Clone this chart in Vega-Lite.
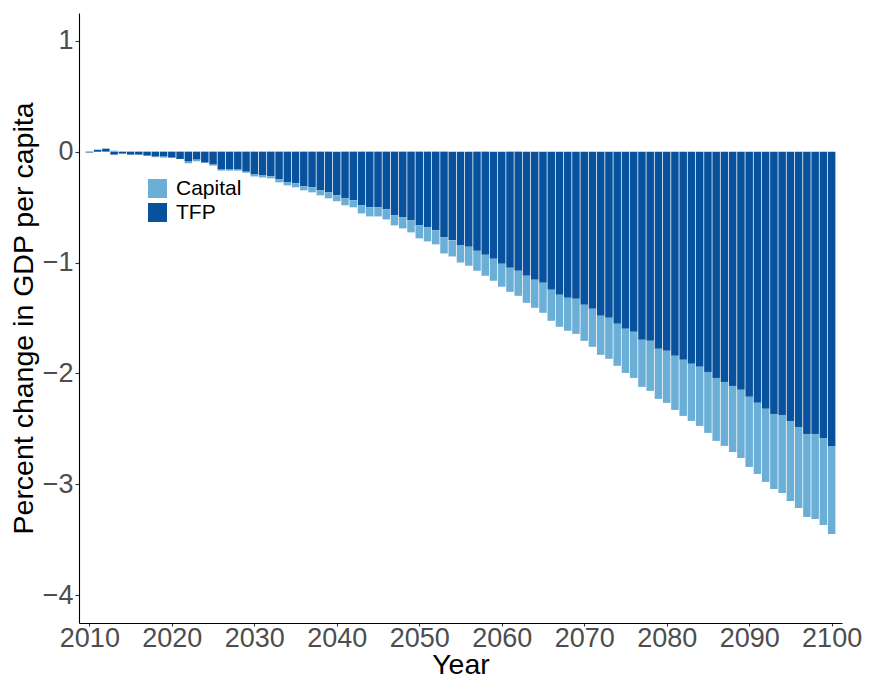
{
  "$schema": "https://vega.github.io/schema/vega-lite/v6.json",
  "autosize": "none",
  "width": 763,
  "height": 610,
  "padding": {"left": 79, "top": 13, "right": 28, "bottom": 56},
  "background": "white",
  "config": {
    "view": {"stroke": null},
    "font": "Liberation Sans",
    "axis": {"grid": false, "domainColor": "black", "domainWidth": 1.1, "tickColor": "#333333", "tickWidth": 1.1, "tickSize": 4, "labelColor": "#4d4d4d", "labelFont": "Liberation Sans", "labelFontSize": 27, "labelPadding": 2, "titleFont": "Liberation Sans", "titleFontSize": 28.5, "titleColor": "black", "titleFontWeight": "normal"}
  },
  "data": {"values": [
    {"year":2010,"component":"TFP","value":-0.008},{"year":2010,"component":"Capital","value":0},
    {"year":2011,"component":"TFP","value":0.018},{"year":2011,"component":"Capital","value":0},
    {"year":2012,"component":"TFP","value":0.027},{"year":2012,"component":"Capital","value":0},
    {"year":2013,"component":"TFP","value":-0.027},{"year":2013,"component":"Capital","value":0.009},
    {"year":2014,"component":"TFP","value":-0.018},{"year":2014,"component":"Capital","value":0},
    {"year":2015,"component":"TFP","value":-0.027},{"year":2015,"component":"Capital","value":0},
    {"year":2016,"component":"TFP","value":-0.027},{"year":2016,"component":"Capital","value":0},
    {"year":2017,"component":"TFP","value":-0.036},{"year":2017,"component":"Capital","value":0},
    {"year":2018,"component":"TFP","value":-0.045},{"year":2018,"component":"Capital","value":-0.005},
    {"year":2019,"component":"TFP","value":-0.045},{"year":2019,"component":"Capital","value":-0.009},
    {"year":2020,"component":"TFP","value":-0.054},{"year":2020,"component":"Capital","value":0},
    {"year":2021,"component":"TFP","value":-0.066},{"year":2021,"component":"Capital","value":0},
    {"year":2022,"component":"TFP","value":-0.090},{"year":2022,"component":"Capital","value":-0.015},
    {"year":2023,"component":"TFP","value":-0.072},{"year":2023,"component":"Capital","value":-0.015},
    {"year":2024,"component":"TFP","value":-0.099},{"year":2024,"component":"Capital","value":-0.003},
    {"year":2025,"component":"TFP","value":-0.117},{"year":2025,"component":"Capital","value":-0.009},
    {"year":2026,"component":"TFP","value":-0.162},{"year":2026,"component":"Capital","value":-0.009},
    {"year":2027,"component":"TFP","value":-0.162},{"year":2027,"component":"Capital","value":-0.009},
    {"year":2028,"component":"TFP","value":-0.162},{"year":2028,"component":"Capital","value":-0.009},
    {"year":2029,"component":"TFP","value":-0.181},{"year":2029,"component":"Capital","value":-0.009},
    {"year":2030,"component":"TFP","value":-0.206},{"year":2030,"component":"Capital","value":-0.018},
    {"year":2031,"component":"TFP","value":-0.215},{"year":2031,"component":"Capital","value":-0.018},
    {"year":2032,"component":"TFP","value":-0.223},{"year":2032,"component":"Capital","value":-0.018},
    {"year":2033,"component":"TFP","value":-0.250},{"year":2033,"component":"Capital","value":-0.027},
    {"year":2034,"component":"TFP","value":-0.277},{"year":2034,"component":"Capital","value":-0.027},
    {"year":2035,"component":"TFP","value":-0.286},{"year":2035,"component":"Capital","value":-0.036},
    {"year":2036,"component":"TFP","value":-0.313},{"year":2036,"component":"Capital","value":-0.036},
    {"year":2037,"component":"TFP","value":-0.322},{"year":2037,"component":"Capital","value":-0.045},
    {"year":2038,"component":"TFP","value":-0.349},{"year":2038,"component":"Capital","value":-0.045},
    {"year":2039,"component":"TFP","value":-0.367},{"year":2039,"component":"Capital","value":-0.054},
    {"year":2040,"component":"TFP","value":-0.394},{"year":2040,"component":"Capital","value":-0.054},
    {"year":2041,"component":"TFP","value":-0.421},{"year":2041,"component":"Capital","value":-0.063},
    {"year":2042,"component":"TFP","value":-0.439},{"year":2042,"component":"Capital","value":-0.063},
    {"year":2043,"component":"TFP","value":-0.484},{"year":2043,"component":"Capital","value":-0.073},
    {"year":2044,"component":"TFP","value":-0.502},{"year":2044,"component":"Capital","value":-0.082},
    {"year":2045,"component":"TFP","value":-0.502},{"year":2045,"component":"Capital","value":-0.082},
    {"year":2046,"component":"TFP","value":-0.520},{"year":2046,"component":"Capital","value":-0.091},
    {"year":2047,"component":"TFP","value":-0.575},{"year":2047,"component":"Capital","value":-0.090},
    {"year":2048,"component":"TFP","value":-0.593},{"year":2048,"component":"Capital","value":-0.099},
    {"year":2049,"component":"TFP","value":-0.620},{"year":2049,"component":"Capital","value":-0.108},
    {"year":2050,"component":"TFP","value":-0.665},{"year":2050,"component":"Capital","value":-0.117},
    {"year":2051,"component":"TFP","value":-0.683},{"year":2051,"component":"Capital","value":-0.126},
    {"year":2052,"component":"TFP","value":-0.710},{"year":2052,"component":"Capital","value":-0.126},
    {"year":2053,"component":"TFP","value":-0.773},{"year":2053,"component":"Capital","value":-0.145},
    {"year":2054,"component":"TFP","value":-0.800},{"year":2054,"component":"Capital","value":-0.145},
    {"year":2055,"component":"TFP","value":-0.846},{"year":2055,"component":"Capital","value":-0.154},
    {"year":2056,"component":"TFP","value":-0.857},{"year":2056,"component":"Capital","value":-0.172},
    {"year":2057,"component":"TFP","value":-0.894},{"year":2057,"component":"Capital","value":-0.180},
    {"year":2058,"component":"TFP","value":-0.930},{"year":2058,"component":"Capital","value":-0.189},
    {"year":2059,"component":"TFP","value":-0.966},{"year":2059,"component":"Capital","value":-0.198},
    {"year":2060,"component":"TFP","value":-1.011},{"year":2060,"component":"Capital","value":-0.207},
    {"year":2061,"component":"TFP","value":-1.047},{"year":2061,"component":"Capital","value":-0.217},
    {"year":2062,"component":"TFP","value":-1.074},{"year":2062,"component":"Capital","value":-0.226},
    {"year":2063,"component":"TFP","value":-1.119},{"year":2063,"component":"Capital","value":-0.244},
    {"year":2064,"component":"TFP","value":-1.155},{"year":2064,"component":"Capital","value":-0.253},
    {"year":2065,"component":"TFP","value":-1.182},{"year":2065,"component":"Capital","value":-0.271},
    {"year":2066,"component":"TFP","value":-1.245},{"year":2066,"component":"Capital","value":-0.280},
    {"year":2067,"component":"TFP","value":-1.291},{"year":2067,"component":"Capital","value":-0.288},
    {"year":2068,"component":"TFP","value":-1.318},{"year":2068,"component":"Capital","value":-0.297},
    {"year":2069,"component":"TFP","value":-1.327},{"year":2069,"component":"Capital","value":-0.316},
    {"year":2070,"component":"TFP","value":-1.381},{"year":2070,"component":"Capital","value":-0.325},
    {"year":2071,"component":"TFP","value":-1.417},{"year":2071,"component":"Capital","value":-0.343},
    {"year":2072,"component":"TFP","value":-1.480},{"year":2072,"component":"Capital","value":-0.352},
    {"year":2073,"component":"TFP","value":-1.498},{"year":2073,"component":"Capital","value":-0.370},
    {"year":2074,"component":"TFP","value":-1.552},{"year":2074,"component":"Capital","value":-0.379},
    {"year":2075,"component":"TFP","value":-1.597},{"year":2075,"component":"Capital","value":-0.398},
    {"year":2076,"component":"TFP","value":-1.625},{"year":2076,"component":"Capital","value":-0.415},
    {"year":2077,"component":"TFP","value":-1.697},{"year":2077,"component":"Capital","value":-0.424},
    {"year":2078,"component":"TFP","value":-1.706},{"year":2078,"component":"Capital","value":-0.451},
    {"year":2079,"component":"TFP","value":-1.778},{"year":2079,"component":"Capital","value":-0.451},
    {"year":2080,"component":"TFP","value":-1.796},{"year":2080,"component":"Capital","value":-0.469},
    {"year":2081,"component":"TFP","value":-1.841},{"year":2081,"component":"Capital","value":-0.488},
    {"year":2082,"component":"TFP","value":-1.877},{"year":2082,"component":"Capital","value":-0.506},
    {"year":2083,"component":"TFP","value":-1.913},{"year":2083,"component":"Capital","value":-0.515},
    {"year":2084,"component":"TFP","value":-1.940},{"year":2084,"component":"Capital","value":-0.533},
    {"year":2085,"component":"TFP","value":-1.986},{"year":2085,"component":"Capital","value":-0.550},
    {"year":2086,"component":"TFP","value":-2.040},{"year":2086,"component":"Capital","value":-0.568},
    {"year":2087,"component":"TFP","value":-2.076},{"year":2087,"component":"Capital","value":-0.577},
    {"year":2088,"component":"TFP","value":-2.112},{"year":2088,"component":"Capital","value":-0.596},
    {"year":2089,"component":"TFP","value":-2.148},{"year":2089,"component":"Capital","value":-0.614},
    {"year":2090,"component":"TFP","value":-2.211},{"year":2090,"component":"Capital","value":-0.632},
    {"year":2091,"component":"TFP","value":-2.265},{"year":2091,"component":"Capital","value":-0.641},
    {"year":2092,"component":"TFP","value":-2.319},{"year":2092,"component":"Capital","value":-0.659},
    {"year":2093,"component":"TFP","value":-2.365},{"year":2093,"component":"Capital","value":-0.677},
    {"year":2094,"component":"TFP","value":-2.374},{"year":2094,"component":"Capital","value":-0.704},
    {"year":2095,"component":"TFP","value":-2.428},{"year":2095,"component":"Capital","value":-0.722},
    {"year":2096,"component":"TFP","value":-2.482},{"year":2096,"component":"Capital","value":-0.731},
    {"year":2097,"component":"TFP","value":-2.545},{"year":2097,"component":"Capital","value":-0.749},
    {"year":2098,"component":"TFP","value":-2.545},{"year":2098,"component":"Capital","value":-0.767},
    {"year":2099,"component":"TFP","value":-2.581},{"year":2099,"component":"Capital","value":-0.785},
    {"year":2100,"component":"TFP","value":-2.653},{"year":2100,"component":"Capital","value":-0.795}
  ]},
  "mark": {"type": "bar", "width": 7.5},
  "encoding": {
    "x": {"field": "year", "type": "quantitative", "title": "Year",
      "scale": {"domain": [2009.35, 2100.65], "nice": false, "zero": false},
      "axis": {"values": [2010, 2020, 2030, 2040, 2050, 2060, 2070, 2080, 2090, 2100], "format": "d", "labelFlush": false, "labelOverlap": false, "labelAlign": "center", "tickSize": 3, "labelPadding": -1, "titlePadding": -1}},
    "y": {"field": "value", "type": "quantitative", "title": "Percent change in GDP per capita", "stack": "zero",
      "scale": {"domain": [-4.25, 1.25], "nice": false, "zero": false},
      "axis": {"values": [-4, -3, -2, -1, 0, 1], "labelFlush": false, "labelOverlap": false, "titlePadding": 4}},
    "color": {"field": "component", "type": "nominal",
      "scale": {"domain": ["Capital", "TFP"], "range": ["#6baed6", "#08519c"]},
      "legend": {"title": null, "orient": "none", "legendX": 68, "legendY": 165, "padding": 0, "symbolType": "square", "symbolSize": 361, "symbolStrokeWidth": 0, "symbolOpacity": 1, "labelFontSize": 21, "labelColor": "black", "labelFont": "Liberation Sans", "labelOffset": 8, "rowPadding": 2}},
    "order": {"field": "component", "sort": "descending"}
  }
}
